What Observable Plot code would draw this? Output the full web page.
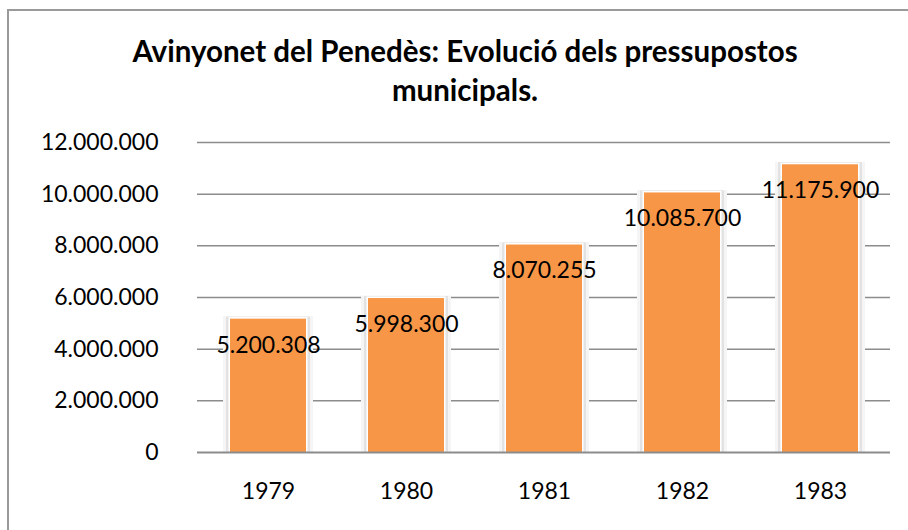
<!DOCTYPE html>
<html>
<head>
<meta charset="utf-8">
<script src="https://cdn.jsdelivr.net/npm/d3@7"></script>
<script src="https://cdn.jsdelivr.net/npm/@observablehq/plot@0.6"></script>
<style>
  html, body { margin: 0; padding: 0; background: #fff; overflow: hidden; }
  #wrap { position: relative; width: 908px; height: 530px; overflow: hidden; font-family: Lato, "Open Sans", sans-serif; }
  #frame { position: absolute; left: 7px; top: 9px; width: 960px; height: 600px; border: 2px solid #9a9a9a; box-sizing: border-box; }
  .title { position: absolute; left: 22px; width: 886px; text-align: center; font-weight: bold; font-size: 29.5px; line-height: 30px; color: #000; white-space: nowrap; }
  #chart { position: absolute; left: 0; top: 100px; }
</style>
</head>
<body>
<div id="wrap">
  <div id="frame"></div>
  <div class="title" style="top:36px">Avinyonet del Penedès: Evolució dels pressupostos</div>
  <div class="title" style="top:75px">municipals.</div>
  <div id="chart"></div>
</div>
<script>
const years = ["1979", "1980", "1981", "1982", "1983"];
const budgets = [5200308, 5998300, 8070255, 10085700, 11175900];
const yTicks = [0, 2000000, 4000000, 6000000, 8000000, 10000000, 12000000];

const data = years.map((y, i) => ({year: y, value: budgets[i]}));
const fmt = d => d3.format(",")(d).replace(/,/g, ".");

const chart = Plot.plot({
  width: 908,
  height: 430,
  marginTop: 42,
  marginBottom: 78,
  marginLeft: 197,
  marginRight: 18,
  style: {fontFamily: "Lato, 'Open Sans', sans-serif", fontSize: "23px", color: "#000", background: "transparent"},
  x: {domain: years, paddingInner: 0.45, paddingOuter: 0.225, label: null},
  y: {domain: [0, 12000000], label: null},
  marks: [
    Plot.ruleY(yTicks.filter(d => d > 0), {stroke: "#8c8c8c", strokeWidth: 1.5}),
    Plot.ruleX([0], {frameAnchor: "left", y1: 0, y2: 12000000, stroke: "#8c8c8c", strokeWidth: 1.5}),
    Plot.axisY({ticks: yTicks, tickFormat: fmt, tickSize: 0, tickPadding: 39, fontSize: 23, label: null}),
    Plot.axisX({tickSize: 0, tickPadding: 30, fontSize: 23, label: null}),
    // soft halo around bars
    Plot.barY(data, {x: "year", y: "value", fill: "#f5f5f5", insetLeft: -7, insetRight: -7, insetTop: -1.5}),
    Plot.barY(data, {x: "year", y: "value", fill: "#e2e2e2", insetLeft: -4, insetRight: -4, insetTop: -1}),
    Plot.barY(data, {x: "year", y: "value", fill: "#ffffff", insetLeft: -1.5, insetRight: -1.5, insetTop: -0.5}),
    Plot.barY(data, {x: "year", y: "value", fill: "#F79646", insetTop: 1}),
    Plot.ruleY([0], {stroke: "#8c8c8c", strokeWidth: 2}),
    Plot.text(data, {x: "year", y: "value", text: d => fmt(d.value), dy: 27, fontSize: 23, fill: "#000"})
  ]
});
document.getElementById("chart").appendChild(chart);
</script>
</body>
</html>
